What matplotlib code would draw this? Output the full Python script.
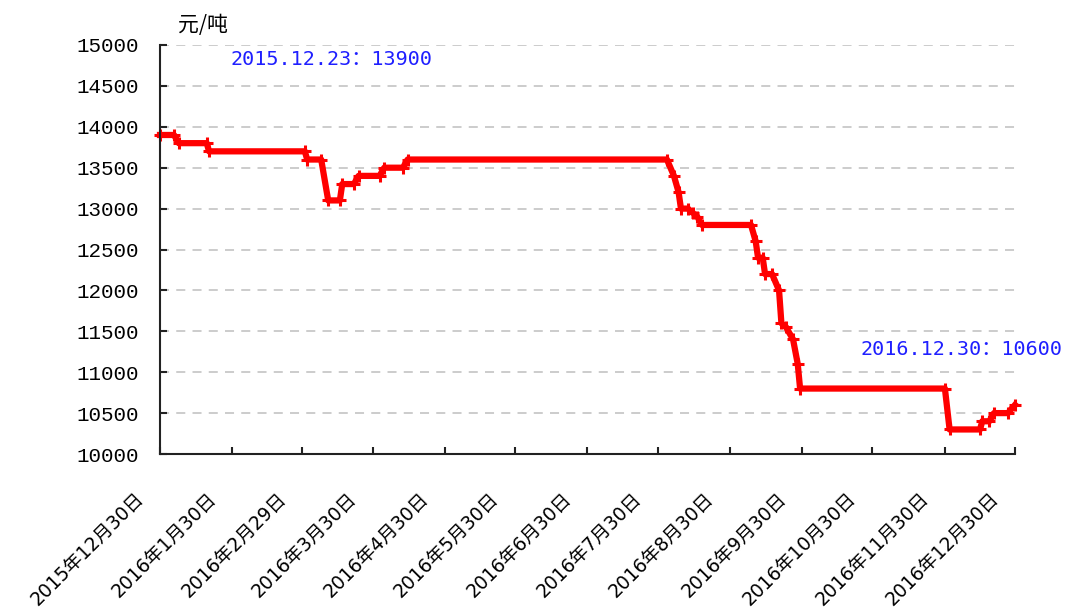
import matplotlib
matplotlib.use("Agg")
import matplotlib.pyplot as plt
from matplotlib.transforms import ScaledTranslation
import pandas as pd

# price change points (date, yuan/ton)
dates = [
    "2015-12-30", "2016-01-05", "2016-01-07", "2016-01-19", "2016-01-20",
    "2016-03-01", "2016-03-02", "2016-03-08", "2016-03-11", "2016-03-16",
    "2016-03-17", "2016-03-22", "2016-03-24", "2016-04-02", "2016-04-04",
    "2016-04-12", "2016-04-14", "2016-08-03", "2016-08-06", "2016-08-08",
    "2016-08-09", "2016-08-12", "2016-08-14", "2016-08-16", "2016-08-18",
    "2016-09-08", "2016-09-10", "2016-09-11", "2016-09-13", "2016-09-14",
    "2016-09-17", "2016-09-20", "2016-09-21", "2016-09-23", "2016-09-26",
    "2016-09-28", "2016-09-29", "2016-11-30", "2016-12-02", "2016-12-15",
    "2016-12-16", "2016-12-19", "2016-12-21", "2016-12-27", "2016-12-30",
]
prices = [
    13900, 13900, 13800, 13800, 13700,
    13700, 13600, 13600, 13100, 13100,
    13300, 13300, 13400, 13400, 13500,
    13500, 13600, 13600, 13400, 13200,
    13000, 13000, 12950, 12900, 12800,
    12800, 12600, 12400, 12400, 12200,
    12200, 12000, 11600, 11550, 11400,
    11100, 10800, 10800, 10300, 10300,
    10400, 10400, 10500, 10500, 10600,
]

tick_dates = [
    "2015-12-30", "2016-01-30", "2016-02-29", "2016-03-30", "2016-04-30",
    "2016-05-30", "2016-06-30", "2016-07-30", "2016-08-30", "2016-09-30",
    "2016-10-30", "2016-11-30", "2016-12-30",
]
tick_labels = [
    "2015年12月30日", "2016年1月30日", "2016年2月29日", "2016年3月30日",
    "2016年4月30日", "2016年5月30日", "2016年6月30日", "2016年7月30日",
    "2016年8月30日", "2016年9月30日", "2016年10月30日", "2016年11月30日",
    "2016年12月30日",
]
y_ticks = list(range(10000, 15001, 500))

note_start = "2015.12.23：13900"
note_end = "2016.12.30：10600"


def main():
    x = pd.to_datetime(dates)
    xt = pd.to_datetime(tick_dates)

    fig = plt.figure(figsize=(10.65, 6.09), dpi=100)
    ax = fig.add_axes([160 / 1065, 1 - 454 / 609, 855 / 1065, 409 / 609])

    ax.plot(x, prices, color="#ff0000", lw=4.5, marker="+", ms=8, mew=2.2,
            zorder=3, clip_on=False)

    ax.set_xlim(xt[0], xt[-1])
    ax.set_ylim(10000, 15000)
    ax.set_xticks(xt)
    ax.set_xticklabels(tick_labels)
    ax.set_yticks(y_ticks)

    # chart styling
    ax.spines["top"].set_visible(False)
    ax.spines["right"].set_visible(False)
    for s in ("left", "bottom"):
        ax.spines[s].set_linewidth(1.5)
        ax.spines[s].set_color("#222222")
        ax.spines[s].set_zorder(4)
    ax.tick_params(axis="both", direction="in", length=5, width=1.5,
                   color="#222222")
    ax.tick_params(axis="y", pad=15)
    ax.yaxis.grid(True, linestyle=(0, (5, 4)), color="#c8c8c8", lw=1.3)
    ax.set_axisbelow(True)

    for lab in ax.get_yticklabels():
        lab.set_fontfamily("Liberation Mono")
        lab.set_fontsize(15)

    offset = ScaledTranslation(-0.26, -0.30, fig.dpi_scale_trans)
    for lab in ax.get_xticklabels():
        lab.set_fontfamily(["DejaVu Sans", "Noto Sans CJK SC"])
        lab.set_fontsize(13.5)
        lab.set_rotation(45)
        lab.set_rotation_mode("anchor")
        lab.set_ha("right")
        lab.set_va("top")
        lab.set_transform(lab.get_transform() + offset)

    fig.text(178 / 1065, 1 - 25 / 609, "元/吨", fontsize=15,
             family=["Noto Sans CJK SC", "DejaVu Sans"], ha="left", va="center")

    mono = ["DejaVu Sans Mono", "Noto Sans CJK SC"]
    ax.text(70 / 855, (454 - 59) / 409, note_start, transform=ax.transAxes,
            color="#1f1fff", fontsize=14.5, family=mono, ha="left", va="center")
    ax.text(700 / 855, (454 - 349) / 409, note_end, transform=ax.transAxes,
            color="#1f1fff", fontsize=14.5, family=mono, ha="left", va="center")

    fig.savefig("out.png", dpi=100)


if __name__ == "__main__":
    main()
